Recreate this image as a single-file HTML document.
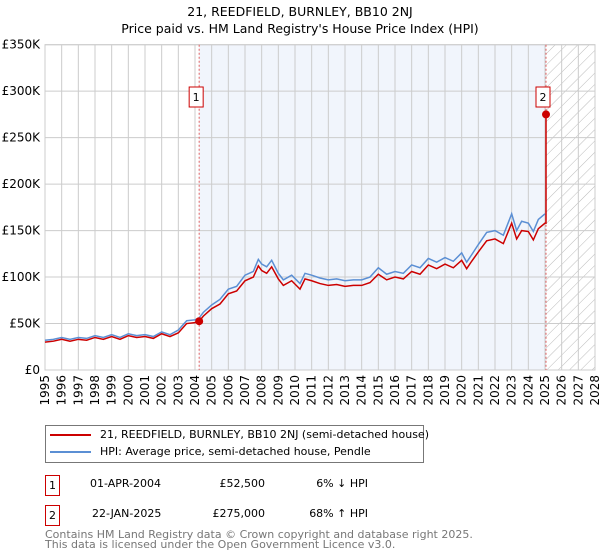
<!DOCTYPE html>
<html><head><meta charset="utf-8"><style>
body{margin:0;background:#fff;font-family:"DejaVu Sans","Liberation Sans",sans-serif;}
#wrap{position:relative;width:600px;height:560px;overflow:hidden}
.t{position:absolute;font-size:12px;color:#000;white-space:nowrap}
.box{position:absolute;border:1px solid #c00;background:#fff;font-size:11px;text-align:center}
</style></head><body><div id="wrap">
<div class="t" style="left:0;width:600px;text-align:center;top:4px;font-size:12.5px">21, REEDFIELD, BURNLEY, BB10 2NJ</div>
<div class="t" style="left:0;width:600px;text-align:center;top:21px;font-size:12.5px">Price paid vs. HM Land Registry's House Price Index (HPI)</div>
<svg id="svg" width="600" height="420" style="position:absolute;left:0;top:0"></svg>
<div style="position:absolute;left:45px;top:425px;width:377px;height:36px;border:1px solid #777"></div>
<div style="position:absolute;left:50px;top:434px;width:41px;height:2px;background:#c00"></div>
<div class="t" style="left:100px;top:428px;font-size:11px">21, REEDFIELD, BURNLEY, BB10 2NJ (semi-detached house)</div>
<div style="position:absolute;left:50px;top:451px;width:41px;height:2px;background:#5b8fd4"></div>
<div class="t" style="left:100px;top:445px;font-size:11px">HPI: Average price, semi-detached house, Pendle</div>
<div class="box" style="left:45px;top:475px;width:13px;height:19px;line-height:19px">1</div>
<div class="t" style="left:90px;top:477px;font-size:11px">01-APR-2004</div>
<div class="t" style="left:200px;width:65px;text-align:right;top:477px;font-size:11px">£52,500</div>
<div class="t" style="left:300px;width:68px;text-align:right;top:477px;font-size:11px">6% ↓ HPI</div>
<div class="box" style="left:45px;top:505px;width:13px;height:19px;line-height:19px">2</div>
<div class="t" style="left:92px;top:507px;font-size:11px">22-JAN-2025</div>
<div class="t" style="left:200px;width:65px;text-align:right;top:507px;font-size:11px">£275,000</div>
<div class="t" style="left:300px;width:68px;text-align:right;top:507px;font-size:11px">68% ↑ HPI</div>
<div class="t" style="left:45px;top:530px;font-size:11px;color:#777;line-height:10px">Contains HM Land Registry data © Crown copyright and database right 2025.<br>This data is licensed under the Open Government Licence v3.0.</div>
</div>
<script>
const hpiYears=[1995,1995.5,1996,1996.5,1997,1997.5,1998,1998.5,1999,1999.5,2000,2000.5,2001,2001.5,2002,2002.5,2003,2003.5,2004,2004.25,2004.5,2005,2005.5,2006,2006.5,2007,2007.5,2007.8,2008,2008.3,2008.6,2009,2009.3,2009.8,2010.3,2010.6,2011,2011.5,2012,2012.5,2013,2013.5,2014,2014.5,2015,2015.5,2016,2016.5,2017,2017.5,2018,2018.5,2019,2019.5,2020,2020.3,2020.6,2021,2021.5,2022,2022.5,2023,2023.3,2023.6,2024,2024.3,2024.6,2025];
const hpiValues=[32,33,35,33,35,34,37,35,38,35,39,37,38,36,41,38,43,53,54,56,62,70,76,87,90,102,106,119,114,111,118,104,97,102,93,104,102,99,97,98,96,97,97,100,110,103,106,104,113,110,120,116,121,117,126,116,124,135,148,150,145,168,150,160,158,149,162,168];
const redValues=[30,31,33,31,33,32,35,33,36,33,37,35,36,34,39,36,40,50,51,52.5,58,66,71,82,85,96,100,112,107,104,111,98,91,96,87,98,96,93,91,92,90,91,91,94,103,97,100,98,106,103,113,109,114,110,118,109,117,127,139,141,136,158,141,150,149,140,152,158];
const saleYears=[2004.25,2025.06];
const salePrices=[52.5,275];
const yTicks=[0,50,100,150,200,250,300,350];
const yTickLabels=["£0","£50K","£100K","£150K","£200K","£250K","£300K","£350K"];
const xTicks=[1995,1996,1997,1998,1999,2000,2001,2002,2003,2004,2005,2006,2007,2008,2009,2010,2011,2012,2013,2014,2015,2016,2017,2018,2019,2020,2021,2022,2023,2024,2025,2026,2027,2028];
const X0=45,X1=595,Y0=370,Y1=44.7;
const xs=y=>X0+(y-1995)/(2028-1995)*(X1-X0);
const ys=v=>Y0-v/350*(Y0-Y1);
const svg=document.getElementById('svg');const NS='http://www.w3.org/2000/svg';
function mk(tag,at,name){const e=document.createElementNS(NS,tag);for(const k in at)e.setAttribute(k,at[k]);


svg.appendChild(e);return e;}
const defs=mk('defs',{},'defs');
defs.innerHTML='<pattern id="hatch" width="8" height="8" patternUnits="userSpaceOnUse" patternTransform="rotate(45)"><line x1="0" y1="0" x2="0" y2="8" stroke="#bbb" stroke-width="1"/></pattern>';
mk('rect',{x:xs(saleYears[0]),y:Y1,width:xs(saleYears[1])-xs(saleYears[0]),height:Y0-Y1,fill:'#eef2fb',opacity:0.8},'shaded-ownership-period');
mk('rect',{x:xs(saleYears[1]),y:Y1,width:X1-xs(saleYears[1]),height:Y0-Y1,fill:'url(#hatch)'},'future-hatch');
yTicks.forEach((v,i)=>{mk('line',{x1:X0,x2:X1,y1:ys(v),y2:ys(v),stroke:'#ccc'},'y-gridline');
const t=mk('text',{x:40,y:ys(v)+4,'text-anchor':'end','font-size':12,fill:'#000'},'y-tick-label');t.textContent=yTickLabels[i];});
xTicks.forEach(y=>{mk('line',{x1:xs(y),x2:xs(y),y1:Y1,y2:Y0,stroke:'#ccc'},'x-gridline');
const t=mk('text',{x:0,y:0,'text-anchor':'end','font-size':12,fill:'#000',transform:`translate(${xs(y)+4},${Y0+5}) rotate(-90)`},'x-tick-label');t.textContent=y;});
mk('rect',{x:X0,y:Y1,width:X1-X0,height:Y0-Y1,fill:'none',stroke:'#ccc'},'plot-border');
saleYears.forEach((y,i)=>mk('line',{x1:xs(y),x2:xs(y),y1:Y1,y2:Y0,stroke:'#e06060','stroke-dasharray':'2,2'},'sale-'+(i+1)+'-vline'));
mk('polyline',{points:hpiYears.map((y,i)=>xs(y)+','+ys(hpiValues[i])).join(' '),fill:'none',stroke:'#5b8fd4','stroke-width':1.5},'hpi-line');
let pts=hpiYears.map((y,i)=>xs(y)+','+ys(redValues[i]));
pts.push(xs(saleYears[1])+','+ys(redValues[redValues.length-1]));
pts.push(xs(saleYears[1])+','+ys(salePrices[1]));
mk('polyline',{points:pts.join(' '),fill:'none',stroke:'#cc0000','stroke-width':1.5},'property-price-line');
saleYears.forEach((y,i)=>{mk('circle',{cx:xs(y),cy:ys(salePrices[i]),r:4,fill:'#cc0000'},'sale-'+(i+1)+'-point');
const bx=xs(y)-3;mk('rect',{x:bx-7,y:87,width:14,height:20,fill:'#fff',stroke:'#c00'},'sale-'+(i+1)+'-marker-box');
const t=mk('text',{x:bx,y:101,'text-anchor':'middle','font-size':11},'sale-'+(i+1)+'-marker-label');t.textContent=i+1;});
</script></body></html>
